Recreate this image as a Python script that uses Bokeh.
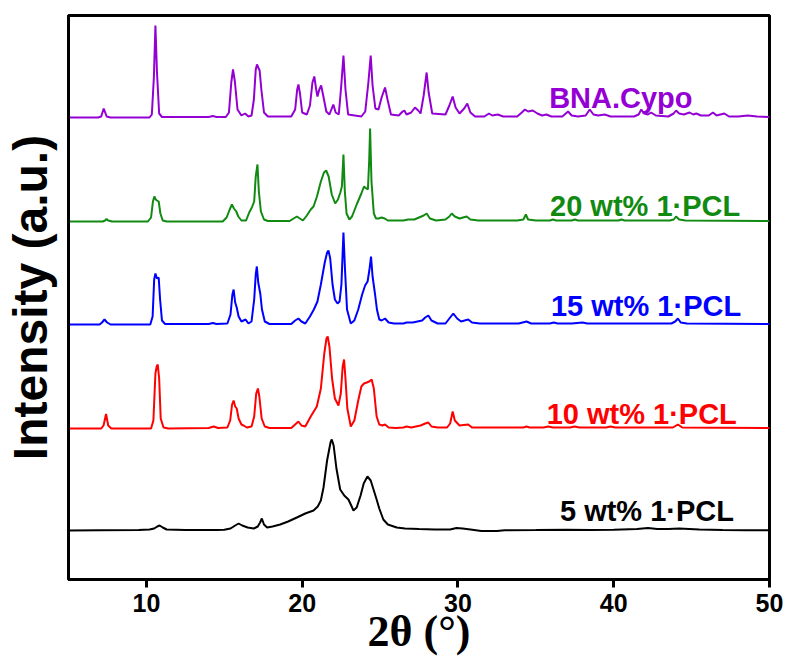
from bokeh.plotting import figure
from bokeh.models import Range1d, FixedTicker, Label
from bokeh.embed import file_html
from bokeh.resources import INLINE

# XRD patterns: (2theta in degrees, intensity above the sample's own baseline, a.u.)
bna_cypo = [
    (5.0, 0), (6.9, 0), (7.1, 1), (7.26, 9), (7.45, 1), (7.7, 0), (10.2, 0), (10.35, 3),
    (10.48, 40), (10.58, 92), (10.68, 45), (10.82, 4), (11.0, 0.5), (14.0, 0.5), (14.27, 1.5),
    (14.5, 0.5), (15.1, 0.5), (15.3, 5), (15.45, 35), (15.56, 48), (15.68, 36), (15.85, 8),
    (16.1, 2), (16.33, 4), (16.55, 1), (16.75, 2), (16.9, 18), (17.02, 48), (17.1, 53),
    (17.18, 50), (17.27, 47), (17.38, 28), (17.55, 5), (17.8, 1), (19.3, 1), (19.55, 8),
    (19.68, 28), (19.76, 33), (19.86, 24), (20.0, 5), (20.3, 3), (20.5, 12), (20.66, 35),
    (20.78, 41), (20.9, 28), (20.98, 21), (21.1, 28), (21.22, 32), (21.35, 22), (21.55, 6),
    (21.75, 3), (21.9, 9), (22.0, 13), (22.15, 5), (22.35, 3), (22.5, 30), (22.65, 62),
    (22.78, 28), (22.95, 3), (23.8, 1), (24.05, 6), (24.25, 35), (24.4, 62), (24.52, 32),
    (24.7, 9), (24.9, 8), (25.1, 20), (25.32, 30), (25.48, 18), (25.7, 3), (26.2, 2),
    (26.45, 6), (26.56, 7), (26.7, 3), (27.0, 5), (27.24, 10), (27.45, 7), (27.6, 4),
    (27.8, 22), (27.99, 45), (28.12, 25), (28.35, 4), (29.2, 3), (29.45, 12), (29.66, 21),
    (29.85, 10), (30.1, 4), (30.4, 9), (30.6, 14), (30.8, 5), (31.1, 1), (31.7, 1),
    (31.99, 4), (32.2, 2), (32.56, 3), (32.9, 1), (33.8, 1), (34.1, 5), (34.3, 8), (34.5, 6),
    (34.8, 7), (35.1, 4), (35.4, 2), (35.68, 3), (36.0, 1), (36.7, 1), (37.07, 6), (37.3, 2),
    (37.7, 1), (38.2, 2), (38.46, 8), (38.7, 3), (39.0, 2), (39.42, 3), (39.8, 1), (41.3, 1),
    (41.6, 3), (41.77, 8), (41.95, 4), (42.2, 3), (42.4, 5), (42.7, 2), (43.5, 1), (43.85, 4),
    (44.0, 7), (44.2, 4), (44.5, 3), (44.87, 5), (45.1, 3), (45.3, 4), (45.6, 2), (46.1, 2),
    (46.37, 5), (46.6, 2), (47.1, 4), (47.4, 1), (48.0, 1), (48.6, 2), (49.2, 1), (50.0, 0.5),
]

pcl_20 = [
    (5.0, 0), (7.2, 0), (7.35, 1), (7.44, 2.5), (7.55, 1), (7.8, 0), (10.1, 0), (10.3, 4),
    (10.42, 20), (10.51, 25), (10.6, 22), (10.68, 21), (10.79, 20), (10.9, 8), (11.05, 1),
    (11.3, 0), (14.9, 0), (15.15, 4), (15.35, 12), (15.49, 17), (15.62, 13), (15.77, 10),
    (15.9, 5), (16.1, 1), (16.4, 1), (16.6, 9), (16.77, 14), (16.92, 20), (17.02, 45),
    (17.13, 57), (17.22, 30), (17.35, 10), (17.55, 2), (17.8, 0.5), (19.2, 0.5), (19.45, 3),
    (19.66, 5), (19.85, 3), (20.05, 1), (20.3, 6), (20.55, 12), (20.73, 15), (20.95, 25),
    (21.2, 40), (21.4, 49), (21.54, 51), (21.7, 45), (21.9, 27), (22.12, 18), (22.3, 22),
    (22.45, 29), (22.55, 35), (22.65, 67), (22.74, 30), (22.85, 8), (23.03, 2), (23.2, 5),
    (23.5, 17), (23.8, 28), (23.97, 35), (24.12, 33), (24.22, 32), (24.3, 60), (24.36, 93),
    (24.45, 40), (24.6, 8), (24.74, 3), (24.9, 3), (25.1, 4), (25.3, 3), (25.5, 1), (26.5, 1),
    (26.8, 2), (27.2, 2), (27.5, 4), (27.8, 6), (27.99, 8), (28.2, 3), (28.6, 1), (29.2, 2),
    (29.45, 5), (29.6, 8), (29.8, 5), (30.1, 3), (30.56, 5), (30.8, 2), (31.3, 1), (33.8, 1),
    (34.2, 2), (34.36, 7), (34.5, 2), (35.0, 1), (35.9, 1), (36.1, 2), (36.3, 1), (37.3, 1),
    (37.5, 2), (37.7, 1), (40.3, 1), (40.5, 2), (40.7, 1), (43.6, 1), (43.85, 2), (44.0, 5),
    (44.2, 2), (44.6, 1), (50.0, 0.5),
]

pcl_15 = [
    (5.0, 0), (7.0, 0), (7.15, 2), (7.31, 5), (7.48, 2), (7.7, 0), (10.25, 0), (10.4, 8),
    (10.5, 45), (10.58, 51), (10.68, 46), (10.79, 47), (10.88, 25), (11.0, 4), (11.2, 0.5),
    (14.0, 0.5), (14.27, 1.5), (14.5, 0.5), (15.2, 1), (15.4, 10), (15.52, 30), (15.6, 35),
    (15.7, 22), (15.8, 17), (15.92, 8), (16.1, 3), (16.37, 5), (16.55, 1), (16.75, 3),
    (16.92, 25), (17.02, 50), (17.09, 58), (17.18, 42), (17.31, 31), (17.42, 15), (17.6, 3),
    (17.9, 0.5), (19.3, 0.5), (19.55, 4), (19.76, 6), (19.95, 3), (20.2, 1), (20.5, 8),
    (20.75, 15), (20.98, 23), (21.2, 40), (21.45, 62), (21.6, 72), (21.69, 74), (21.8, 66),
    (21.95, 40), (22.1, 25), (22.27, 21), (22.4, 23), (22.52, 40), (22.65, 92), (22.75, 55),
    (22.88, 15), (23.12, 1), (23.35, 4), (23.6, 15), (23.85, 30), (24.04, 39), (24.2, 43),
    (24.32, 55), (24.42, 68), (24.52, 48), (24.68, 30), (24.8, 15), (24.95, 5), (25.1, 4),
    (25.32, 6), (25.55, 2), (25.9, 1), (26.5, 1), (26.7, 2), (27.1, 2), (27.4, 3), (27.7, 4),
    (27.9, 7), (28.1, 9), (28.3, 4), (28.7, 1), (29.2, 1), (29.45, 6), (29.7, 11), (29.95, 6),
    (30.2, 3), (30.66, 5), (30.9, 2), (31.4, 1), (33.9, 1), (34.4, 3), (34.7, 1), (35.9, 1),
    (36.15, 2), (36.4, 1), (37.3, 1), (38.0, 2), (38.3, 1), (43.7, 1), (43.95, 3),
    (44.12, 6), (44.3, 2), (44.7, 1), (50.0, 0.5),
]

pcl_10 = [
    (5.0, 0), (7.1, 0), (7.25, 3), (7.41, 14.5), (7.55, 3), (7.75, 0), (10.3, 0), (10.45, 8),
    (10.58, 55), (10.66, 62), (10.73, 64), (10.82, 50), (10.92, 10), (11.1, 1), (11.4, 0),
    (14.0, 0.5), (14.32, 2), (14.6, 0.5), (15.2, 1), (15.38, 8), (15.5, 24), (15.6, 28),
    (15.7, 22), (15.8, 20), (15.92, 10), (16.1, 4), (16.24, 3), (16.45, 1), (16.75, 2),
    (16.92, 12), (17.05, 35), (17.16, 40), (17.25, 32), (17.4, 10), (17.6, 2), (17.9, 0.5),
    (19.3, 0.5), (19.55, 4), (19.76, 7), (19.95, 3), (20.2, 2), (20.55, 12), (20.94, 22),
    (21.2, 40), (21.42, 75), (21.56, 90), (21.64, 92), (21.75, 82), (21.92, 50), (22.1, 30),
    (22.33, 23), (22.48, 35), (22.6, 62), (22.69, 69), (22.78, 50), (22.9, 20), (23.12, 2),
    (23.35, 8), (23.6, 28), (23.8, 42), (23.97, 45), (24.15, 46), (24.3, 47), (24.46, 49),
    (24.6, 40), (24.78, 12), (24.95, 4), (25.15, 3), (25.32, 4), (25.55, 1), (26.0, 0.5),
    (26.5, 1), (26.7, 2), (27.0, 1), (27.3, 2), (27.6, 3), (27.9, 5), (28.1, 6), (28.3, 2),
    (28.7, 1), (29.3, 1), (29.5, 5), (29.66, 17), (29.8, 8), (30.1, 3), (30.66, 4), (30.9, 1),
    (32.0, 1), (34.2, 1), (34.4, 2), (34.6, 1), (35.5, 1), (35.8, 2), (36.1, 1), (37.2, 1),
    (37.5, 2), (37.8, 1), (39.5, 1), (39.8, 2), (40.1, 1), (43.8, 1), (44.12, 4), (44.4, 1),
    (50.0, 0.5),
]

pcl_5 = [
    (5.0, 0), (7.0, 0.3), (9.5, 0.5), (10.2, 1), (10.5, 2), (10.7, 4), (10.85, 5), (11.05, 3),
    (11.3, 1), (12.5, 0.5), (14.5, 0.5), (15.0, 0.8), (15.4, 2), (15.7, 5), (15.92, 7),
    (16.15, 5), (16.5, 3), (16.9, 2), (17.15, 4), (17.3, 8), (17.41, 12), (17.55, 6),
    (17.75, 3), (18.1, 4), (18.59, 6), (19.1, 9), (19.66, 13), (20.2, 17), (20.73, 20),
    (21.0, 24), (21.2, 30), (21.37, 43), (21.6, 70), (21.82, 88), (21.9, 91), (22.02, 85),
    (22.2, 62), (22.44, 41), (22.7, 35), (22.97, 31), (23.15, 25), (23.29, 20), (23.5, 23),
    (23.75, 35), (23.95, 47), (24.19, 54), (24.4, 50), (24.6, 40), (24.78, 31), (24.95, 22),
    (25.21, 11), (25.5, 6), (26.07, 3), (26.6, 2), (27.5, 1.5), (28.5, 1), (29.5, 1),
    (29.9, 2.5), (30.3, 2), (30.8, 1), (31.5, -0.5), (32.5, -0.5), (33.0, 0.3), (35.0, 0.5),
    (37.0, 0.8), (38.5, 0.5), (40.0, 0.8), (41.5, 1.5), (42.2, 2.5), (42.8, 1.5), (43.5, 1.5),
    (44.2, 2), (45.5, 1), (47.0, 0.5), (48.5, 0.3), (50.0, 0.3),
]

# stacking: bottom to top
patterns = [pcl_5, pcl_10, pcl_15, pcl_20, bna_cypo]
names = ["5 wt% 1\u00b7PCL", "10 wt% 1\u00b7PCL", "15 wt% 1\u00b7PCL", "20 wt% 1\u00b7PCL", "BNA.Cypo"]
colors = ["#000000", "#FF0000", "#0000FF", "#118A11", "#9400D3"]
offsets = [49, 151, 255, 358, 462]
label_x = [47.72, 47.9, 48.18, 48.12, 45.06]
label_y = [69, 166, 274, 374, 482]
x_ticks = [10, 20, 30, 40, 50]

p = figure(width=791, height=664, output_backend="svg", toolbar_location=None,
           x_range=Range1d(5, 50), y_range=Range1d(0, 564),
           min_border_left=67, min_border_right=22, min_border_top=15, min_border_bottom=85)
p.background_fill_color = "white"
p.border_fill_color = "white"
p.outline_line_color = "black"
p.outline_line_width = 3
p.xgrid.visible = False
p.ygrid.visible = False

ax = p.xaxis[0]
ax.ticker = FixedTicker(ticks=x_ticks)
ax.axis_line_width = 3
ax.major_tick_line_width = 3
ax.major_tick_out = 8
ax.major_tick_in = 0
ax.minor_tick_line_color = None
ax.major_label_standoff = 6
ax.major_label_text_font = "Liberation Sans"
ax.major_label_text_font_style = "bold"
ax.major_label_text_font_size = "25px"
ax.major_label_text_color = "black"
ax.axis_label = "2\u03b8 (\u00b0)"
ax.axis_label_standoff = -8
ax.axis_label_text_font = "Liberation Serif"
ax.axis_label_text_font_style = "bold"
ax.axis_label_text_font_size = "44px"
ax.axis_label_text_color = "black"

ay = p.yaxis[0]
ay.ticker = FixedTicker(ticks=[])
ay.axis_line_width = 3
ay.major_tick_out = 0
ay.major_tick_in = 0
ay.minor_tick_line_color = None
ay.major_label_text_font_size = "0px"
ay.axis_label = "Intensity (a.u.)"
ay.axis_label_standoff = 12
ay.axis_label_text_font = "Liberation Sans"
ay.axis_label_text_font_style = "bold"
ay.axis_label_text_font_size = "48px"
ay.axis_label_text_color = "black"

for data, name, color, off, lx, ly in zip(patterns, names, colors, offsets, label_x, label_y):
    xs = [d[0] for d in data]
    ys = [d[1] + off for d in data]
    p.line(xs, ys, line_color=color, line_width=2)
    p.add_layout(Label(x=lx, y=ly, text=name, text_align="right", text_baseline="alphabetic",
                       text_font="Liberation Sans", text_font_style="bold",
                       text_font_size="29px", text_color=color))

open("out.html", "w").write(file_html(p, INLINE))
